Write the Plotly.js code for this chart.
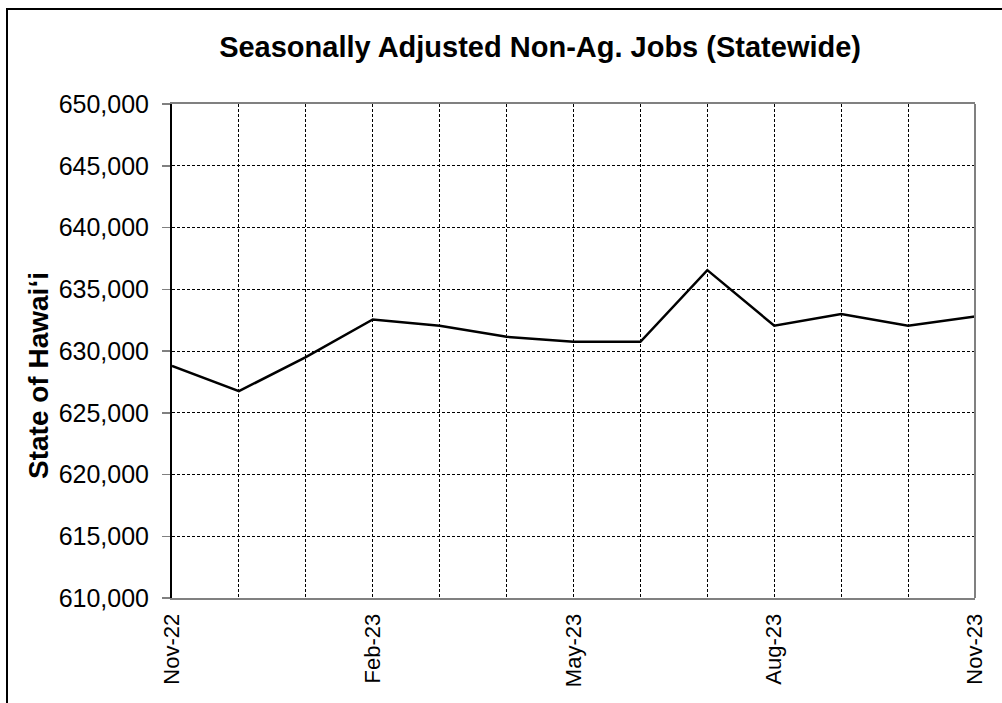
<!DOCTYPE html>
<html>
<head>
<meta charset="utf-8">
<script src="https://cdn.plot.ly/plotly-3.0.1.min.js"></script>
<style>
  html, body { margin: 0; padding: 0; background: #fff; }
  #chart { width: 1002px; height: 703px; }
  #frame { position: absolute; left: 6px; top: 8px; width: 1100px; height: 800px;
           border-top: 2px solid #000; border-left: 2px solid #000; pointer-events: none; }
</style>
</head>
<body>
<div id="chart"></div>
<div id="frame"></div>
<script>
const months = ["Nov-22","Dec-22","Jan-23","Feb-23","Mar-23","Apr-23","May-23","Jun-23","Jul-23","Aug-23","Sep-23","Oct-23","Nov-23"];
const jobs = [628800, 626750, 629500, 632550, 632050, 631150, 630750, 630750, 636550, 632050, 633000, 632050, 632800];
const tickLabels = ["Nov-22","Feb-23","May-23","Aug-23","Nov-23"];
const yTicks = [610000,615000,620000,625000,630000,635000,640000,645000,650000];

const xIdx = months.map((m, i) => i);
const tickIdx = tickLabels.map(t => months.indexOf(t));

const font = "Liberation Sans, Arial, sans-serif";

Plotly.newPlot("chart", [{
  x: xIdx,
  y: jobs,
  type: "scatter",
  mode: "lines",
  line: { color: "#000000", width: 2.5 },
  hoverinfo: "skip"
}], {
  width: 1002, height: 703,
  margin: { l: 172, r: 27, t: 104, b: 105 },
  paper_bgcolor: "#ffffff",
  plot_bgcolor: "#ffffff",
  showlegend: false,
  font: { family: font, color: "#000" },
  title: {
    text: "<b>Seasonally Adjusted Non-Ag. Jobs (Statewide)</b>",
    font: { family: font, size: 29, color: "#000" },
    x: 0.539, xanchor: "center", xref: "container",
    y: 1 - 47/703, yanchor: "middle", yref: "container"
  },
  xaxis: {
    range: [0, 12],
    tickvals: tickIdx,
    ticktext: tickLabels,
    tickangle: -90,
    tickfont: { family: font, size: 22, color: "#000" },
    ticks: "",
    ticklabelstandoff: 5,
    showgrid: true,
    gridcolor: "#000",
    gridwidth: 1,
    griddash: "3px,2px",
    minor: { dtick: 1, tick0: 0, showgrid: true, gridcolor: "#000", gridwidth: 1, griddash: "3px,2px", ticks: "" },
    showline: true, linecolor: "#808080", linewidth: 2, mirror: true,
    zeroline: false, fixedrange: true
  },
  yaxis: {
    range: [610000, 650000],
    tickvals: yTicks,
    tickformat: ",d",
    tickfont: { family: font, size: 25, color: "#000" },
    ticks: "outside", ticklen: 8, tickcolor: "#808080", tickwidth: 1.5,
    ticklabelstandoff: 8,
    showgrid: true, gridcolor: "#000", gridwidth: 1, griddash: "3px,2px",
    showline: true, linecolor: "#000", linewidth: 2,
    zeroline: false, fixedrange: true
  },
  shapes: [{
    type: "line", xref: "paper", yref: "paper", x0: 1, x1: 1, y0: 0, y1: 1,
    line: { color: "#808080", width: 2 }
  }],
  annotations: [{
    text: "<b>State of Hawaiʻi</b>",
    xref: "paper", yref: "paper",
    x: (38 - 172) / 803, y: (598 - 376) / 494,
    xanchor: "center", yanchor: "middle",
    textangle: -90, showarrow: false,
    font: { family: font, size: 28, color: "#000" }
  }]
}, { displayModeBar: false, staticPlot: true });
</script>
</body>
</html>
